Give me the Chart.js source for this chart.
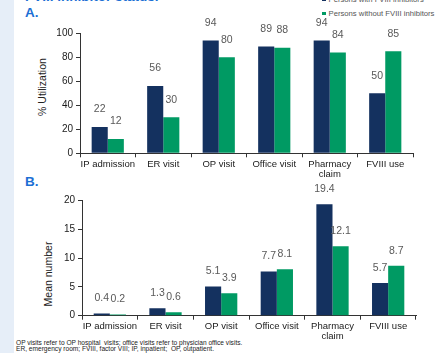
<!DOCTYPE html>
<html>
<head>
<meta charset="utf-8">
<script src="https://cdn.jsdelivr.net/npm/chart.js@4"></script>
<style>
  html, body { margin: 0; padding: 0; }
  body { width: 444px; height: 353px; position: relative; overflow: hidden; background: #fff;
         font-family: "Liberation Sans", Arial, sans-serif; }
  #strip { position: absolute; left: 0; top: 0; width: 14px; height: 353px; background: #e6eef8; }
  .abs { position: absolute; white-space: nowrap; }
  .panel { color: #1c6fd4; font-weight: bold; font-size: 13.5px; }
  .ytitle { font-size: 10.5px; color: #222; transform: translate(-50%, -50%) rotate(-90deg); }
  .legend { font-size: 7.7px; color: #555; }
  .legend i { display: inline-block; width: 3.5px; height: 3.5px; margin-right: 3px; vertical-align: 1px; }
  .note { font-size: 6.6px; color: #222; left: 16px; }
  canvas { position: absolute; left: 0; }
</style>
</head>
<body>
<div id="strip"></div>
<div class="abs panel" style="left:25px;top:-11px;">FVIII inhibitor status.</div>
<div class="abs legend" style="left:322px;top:-5px;"><i style="background:#14315f"></i>Persons with FVIII inhibitors</div>
<div class="abs legend" style="left:322px;top:9px;"><i style="background:#009a63"></i>Persons without FVIII inhibitors</div>
<div class="abs panel" style="left:25px;top:5px;">A.</div>
<div class="abs panel" style="left:25px;top:174px;">B.</div>
<div class="abs ytitle" style="left:42px;top:87px;">% Utilization</div>
<div class="abs ytitle" style="left:48px;top:274px;">Mean number</div>
<div class="abs note" style="top:338.5px;">OP visits refer to OP hospital&nbsp; visits; office visits refer to physician office visits.</div>
<div class="abs note" style="top:345px;">ER, emergency room; FVIII, factor VIII; IP, inpatient;&nbsp; OP, outpatient.</div>

<canvas id="chartA" width="444" height="180" style="top:0;width:444px;height:180px;"></canvas>
<canvas id="chartB" width="444" height="173" style="top:180px;width:444px;height:173px;"></canvas>

<script>
// Healthcare resource categories
const categories = ['IP admission', 'ER visit', 'OP visit', 'Office visit', ['Pharmacy', 'claim'], 'FVIII use'];

// A. % utilization
const utilWithInhibitors = [22, 56, 94, 89, 94, 50];
const utilWithoutInhibitors = [12, 30, 80, 88, 84, 85];
const utilTicks = [0, 20, 40, 60, 80, 100];

// B. mean number of encounters
const meanWithInhibitors = [0.4, 1.3, 5.1, 7.7, 19.4, 5.7];
const meanWithoutInhibitors = [0.2, 0.6, 3.9, 8.1, 12.1, 8.7];
const meanTicks = [0, 5, 10, 15, 20];

const NAVY = '#14315f';
const GREEN = '#009a63';
const FONT = '"Liberation Sans", Arial, sans-serif';

// Writes each bar's value just above it
const valueLabels = {
  id: 'valueLabels',
  afterDatasetsDraw(chart, args, opts) {
    const ctx = chart.ctx;
    ctx.save();
    ctx.font = '10.5px ' + FONT;
    ctx.fillStyle = '#595959';
    ctx.textAlign = 'center';
    ctx.textBaseline = 'middle';
    chart.data.datasets.forEach((ds, i) => {
      chart.getDatasetMeta(i).data.forEach((bar, j) => {
        const v = ds.data[j];
        ctx.fillText(opts.decimals ? v.toFixed(opts.decimals) : String(v), bar.x, bar.y - opts.offset);
      });
    });
    ctx.restore();
  }
};

function makeChart(id, withData, withoutData, ticks, box) {
  const tickSet = ticks.slice();
  return new Chart(document.getElementById(id), {
    type: 'bar',
    data: {
      labels: categories,
      datasets: [
        { label: 'Persons with FVIII inhibitors', data: withData, backgroundColor: NAVY },
        { label: 'Persons without FVIII inhibitors', data: withoutData, backgroundColor: GREEN }
      ]
    },
    plugins: [valueLabels],
    options: {
      responsive: false,
      animation: false,
      events: [],
      layout: { padding: { top: box.top, right: box.right, left: 0, bottom: 0 } },
      datasets: { bar: { categoryPercentage: 0.58, barPercentage: 1 } },
      plugins: {
        legend: { display: false },
        tooltip: { enabled: false },
        valueLabels: { offset: box.labelOffset, decimals: box.decimals }
      },
      scales: {
        x: {
          grid: { offset: true, drawOnChartArea: false, tickLength: 4, color: '#333', tickWidth: 1 },
          border: { color: '#333', width: 1 },
          ticks: { color: '#1a1a1a', font: { family: FONT, size: 9.5, lineHeight: 1.05 },
                   padding: 2, maxRotation: 0, autoSkip: false },
          afterFit(s) { s.height = box.xHeight; }
        },
        y: {
          min: tickSet[0],
          max: tickSet[tickSet.length - 1],
          afterBuildTicks(s) { s.ticks = tickSet.map(v => ({ value: v })); },
          grid: { drawOnChartArea: false, tickLength: 4, color: '#333' },
          border: { color: '#333', width: 1 },
          ticks: { color: '#1a1a1a', font: { family: FONT, size: 10 }, padding: 3 },
          afterFit(s) { s.width = box.yWidth; }
        }
      }
    }
  });
}

makeChart('chartA', utilWithInhibitors, utilWithoutInhibitors, utilTicks,
  { top: 33.3, right: 31, xHeight: 26.7, yWidth: 80, labelOffset: 17.5, decimals: 0 });
makeChart('chartB', meanWithInhibitors, meanWithoutInhibitors, meanTicks,
  { top: 20.7, right: 28, xHeight: 37.3, yWidth: 82, labelOffset: 15, decimals: 1 });
</script>
</body>
</html>
